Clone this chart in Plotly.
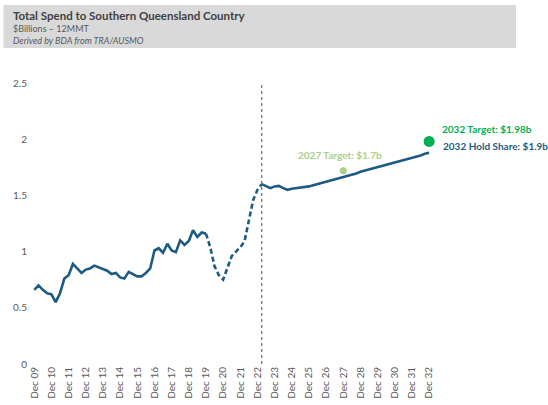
import pandas as pd
import plotly.graph_objects as go

# quarterly points, Dec 09 to Dec 32
quarters = pd.date_range("2009-12-01", "2032-12-01", freq="3MS")

# $ billions, 12 month moving total
actual = [
    0.66, 0.70, 0.66, 0.63, 0.62, 0.55, 0.63, 0.76, 0.79, 0.89,
    0.85, 0.81, 0.84, 0.85, 0.875, 0.86, 0.85, 0.83, 0.80, 0.81,
    0.77, 0.76, 0.82, 0.80, 0.78, 0.78, 0.81, 0.85, 1.01, 1.03,
    0.99, 1.07, 1.01, 0.995, 1.10, 1.06, 1.095, 1.19, 1.13, 1.17,
    1.16,
]
covid = [1.04, 0.87, 0.79, 0.75, 0.85, 0.96, 1.00, 1.04, 1.09, 1.28, 1.46, 1.55, 1.60]
forecast = [
    1.58, 1.565, 1.58, 1.585, 1.565, 1.55, 1.56, 1.565, 1.565, 1.57,
    1.58, 1.59, 1.60, 1.61, 1.62, 1.63, 1.64, 1.655, 1.665, 1.675,
    1.685, 1.695, 1.71, 1.72, 1.73, 1.74, 1.75, 1.76, 1.77, 1.78,
    1.79, 1.80, 1.81, 1.825, 1.835, 1.845, 1.855, 1.87, 1.88,
]

target_dates = ["2027-12-01", "2032-12-01"]
target_values = [1.72, 1.98]
target_labels = ["2027 Target: $1.7b", "2032 Target: $1.98b"]
hold_label = "2032 Hold Share: $1.9b"

LINE = "#1d5b83"
GREEN = "#00b050"
LIGHT_GREEN = "#a9d18e"
GREY = "#595959"
FONT = "Lato, 'Open Sans', sans-serif"

W, H = 548, 405
L, R, T, B = 28, 108, 83, 41.3
PW, PH = W - L - R, H - T - B


def px_x(p):
    return (p - L) / PW


def px_y(p):
    return (H - B - p) / PH


n_act = len(actual)
n_cov = len(covid)
x_act = quarters[:n_act]
x_cov = quarters[n_act - 1:n_act + n_cov]
x_fc = quarters[n_act + n_cov - 1:]

fig = go.Figure()
fig.add_trace(go.Scatter(x=x_act, y=actual, mode="lines",
                         line=dict(color=LINE, width=2.6)))
fig.add_trace(go.Scatter(x=x_cov, y=[actual[-1]] + covid, mode="lines",
                         line=dict(color=LINE, width=2.6, dash="5px,3px")))
fig.add_trace(go.Scatter(x=x_fc, y=[covid[-1]] + forecast, mode="lines",
                         line=dict(color=LINE, width=2.6)))
fig.add_trace(go.Scatter(x=target_dates, y=target_values, mode="markers",
                         marker=dict(color=[LIGHT_GREEN, GREEN], size=[7, 11],
                                     opacity=1, line=dict(width=0))))

# divider at last actual
fig.add_shape(type="line", x0=quarters[n_act + n_cov - 1], x1=quarters[n_act + n_cov - 1],
              y0=0, y1=2.5, line=dict(color="#808080", width=1.5, dash="dot"))

# header box
fig.add_shape(type="rect", xref="paper", yref="paper",
              x0=px_x(3.5), x1=px_x(516), y0=px_y(48), y1=px_y(5),
              fillcolor="#d9d9d9", line=dict(width=0), layer="below")
header = [
    ("<b>Total Spend to Southern Queensland Country</b>", 16, 11.5, "#404040"),
    ("$Billions – 12MMT", 28.5, 9, "#595959"),
    ("<i>Derived by BDA from TRA/AUSMO</i>", 40.5, 9, "#595959"),
]
for text, yp, size, col in header:
    fig.add_annotation(text=text, xref="paper", yref="paper", x=px_x(10.5), y=px_y(yp),
                       xanchor="left", yanchor="middle", showarrow=False,
                       font=dict(size=size, color=col, family=FONT))

fig.add_annotation(text=f"<b>{target_labels[0]}</b>", x=target_dates[0], y=target_values[0],
                   yshift=16, xshift=-3, showarrow=False, xanchor="center", yanchor="middle",
                   font=dict(size=10, color=LIGHT_GREEN, family=FONT))
fig.add_annotation(text=f"<b>{target_labels[1]}</b>", x=target_dates[1], y=target_values[1],
                   xshift=11, yshift=12, showarrow=False, xanchor="left", yanchor="middle",
                   font=dict(size=10, color=GREEN, family=FONT))
fig.add_annotation(text=f"<b>{hold_label}</b>", x=quarters[-1], y=forecast[-1],
                   xshift=12, yshift=7, showarrow=False, xanchor="left", yanchor="middle",
                   font=dict(size=10, color=LINE, family=FONT))

fig.update_layout(
    width=W, height=H,
    margin=dict(l=L, r=R, t=T, b=B, autoexpand=False),
    paper_bgcolor="white", plot_bgcolor="white",
    showlegend=False,
    font=dict(family=FONT, color=GREY, size=10),
)
fig.update_xaxes(
    type="date", range=["2009-07-20", "2033-07-20"],
    tick0="2009-12-01", dtick="M12", tickformat="%b %y",
    tickangle=-90, showgrid=False, zeroline=False, showline=False,
    tickfont=dict(size=10, color=GREY),
)
fig.update_yaxes(
    range=[0, 2.5], tickvals=[0, 0.5, 1, 1.5, 2, 2.5],
    showgrid=False, zeroline=False, showline=False,
    tickfont=dict(size=10, color=GREY),
)

# drop the page's default body margin so the figure sits at the window corner
fig.write_html("out.html", config={"displayModeBar": False},
               post_script="document.body.style.margin = '0';")
